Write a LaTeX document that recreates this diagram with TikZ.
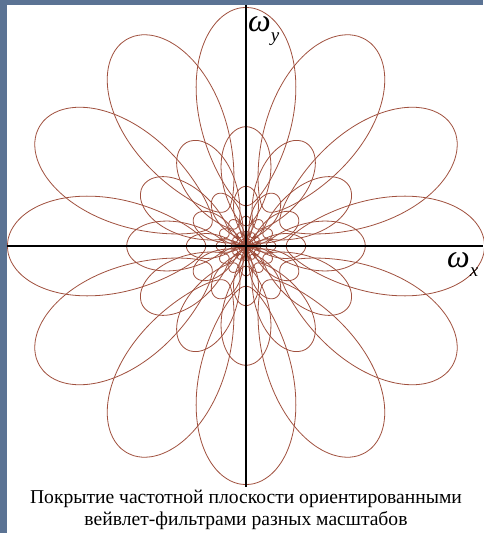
\documentclass[tikz,border=0pt]{standalone}
\usepackage{fontspec}
\setmainfont{Liberation Serif}
\newfontfamily\capfont{Liberation Serif}
\usepackage{xcolor}
\usepackage{tikz}
\definecolor{framegray}{HTML}{5B7394}
\definecolor{petalred}{HTML}{A0503E}
\newcommand{\omlabel}[1]{{\capfont\fontsize{32}{32}\selectfont\itshape ω\raisebox{-0.3em}{\fontsize{19}{19}\selectfont #1}}}

\begin{document}
\begin{tikzpicture}[
    x=1pt, y=1pt,
    petal/.style={draw=petalred, line width=0.8pt},
    axis/.style={draw=black, line width=1.2pt},
    caption/.style={anchor=base, font=\capfont\fontsize{19.6}{22}\selectfont}
]
\useasboundingbox (-246,-287) rectangle (237,246);
\fill[framegray] (-246,-287) rectangle (237,246);
\fill[white] (-239,-287) rectangle (237,241);

% filters: 12 orientations, 6 scales
\foreach \k [evaluate=\k as \rc using 98/2^\k] in {0,...,5}
  \foreach \a in {0,30,...,330}
    \draw[petal] plot[domain=0:360, samples=72, smooth cycle, variable=\t]
      ({\a+21.7*sin(\t)}:{\rc*exp(0.89*cos(\t))});

\coordinate (xleft) at (-239,0);
\coordinate (xright) at (237,0);
\coordinate (ytop) at (0,241);
\coordinate (ybottom) at (0,-241);
\draw[axis] (xleft) -- (xright);
\draw[axis] (ytop) -- (ybottom);

\node[anchor=base west, inner sep=0pt] (wy) at (2,214) {\omlabel{y}};
\node[anchor=base west, inner sep=0pt] (wx) at (201,-21) {\omlabel{x}};

\node[caption] (cap1) at (0,-257) {Покрытие частотной плоскости ориентированными};
\node[caption] (cap2) at (0,-279) {вейвлет-фильтрами разных масштабов};
\end{tikzpicture}
\end{document}
